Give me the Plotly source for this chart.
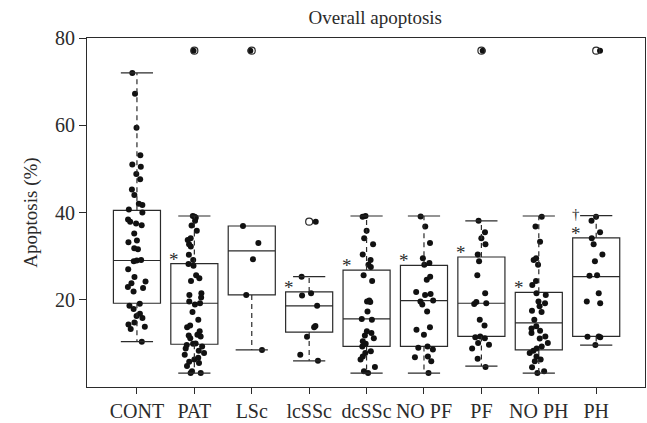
import plotly.graph_objects as go

categories = ["CONT", "PAT", "LSc", "lcSSc", "dcSSc", "NO PF", "PF", "NO PH", "PH"]

# box statistics
q1 = [19.2, 9.8, 21.1, 12.6, 9.3, 9.3, 11.6, 8.5, 11.6]
median = [29.0, 19.2, 31.2, 18.6, 15.6, 19.8, 19.2, 14.7, 25.3]
q3 = [40.5, 28.3, 36.9, 21.8, 26.8, 27.9, 29.8, 21.7, 34.2]
lower_whisker = [10.4, 3.2, 8.5, 6.0, 3.2, 3.2, 4.8, 3.2, 9.6]
upper_whisker = [72.0, 39.2, 36.9, 25.3, 39.2, 39.2, 38.1, 39.2, 39.3]

# outliers (open circles)
outlier_cats = ["PAT", "LSc", "lcSSc", "PF", "PH"]
outlier_vals = [77.1, 77.1, 37.9, 77.1, 77.1]

# individual observations
cont = [72.0, 67.2, 59.4, 53.1, 51.0, 50.5, 48.8, 47.6, 45.3, 44.0, 42.0, 41.7, 40.7, 40.0,
        38.4, 37.9, 37.5, 37.1, 35.2, 33.6, 33.2, 31.8, 31.6, 29.1, 28.8, 29.0, 27.0, 25.2,
        24.2, 23.8, 22.9, 22.7, 21.9, 19.1, 18.6, 17.9, 16.8, 16.3, 15.8, 14.8, 14.3, 13.8,
        13.3, 10.4]
pat = [77.1, 39.2, 39.0, 38.8, 38.1, 37.0, 35.8, 34.1, 33.7, 32.7, 32.2, 30.3, 29.1, 28.2,
       27.8, 25.6, 24.9, 24.3, 21.5, 21.1, 20.5, 19.6, 19.2, 18.9, 17.2, 15.4, 14.1, 13.7,
       12.8, 12.0, 11.8, 11.6, 11.2, 10.0, 9.9, 9.6, 9.3, 8.8, 8.3, 7.8, 7.4, 6.7, 6.3, 5.8,
       5.5, 4.8, 3.6, 3.2, 3.2]
lsc = [77.1, 36.9, 33.0, 29.3, 21.1, 8.5]
lcssc = [37.9, 25.3, 21.5, 21.0, 18.6, 14.0, 13.7, 11.5, 7.4, 6.0]
dcssc = [39.2, 39.0, 35.8, 34.1, 32.7, 30.4, 29.1, 28.0, 27.5, 25.6, 24.3, 19.8, 19.5, 19.6,
         17.3, 15.6, 15.4, 12.8, 12.4, 11.8, 11.2, 10.5, 9.9, 9.3, 8.2, 7.8, 7.0, 6.3, 4.6,
         3.6, 3.2]
no_pf = [39.1, 36.8, 33.0, 29.5, 28.4, 28.0, 25.3, 24.6, 21.8, 21.3, 21.1, 19.8, 19.6, 18.9,
         17.3, 13.7, 13.1, 12.0, 9.3, 9.0, 8.6, 7.0, 6.8, 5.9, 3.2]
pf = [77.1, 38.1, 35.5, 34.1, 32.7, 30.4, 28.8, 25.6, 21.5, 19.5, 19.2, 19.0, 15.4, 14.1,
      11.6, 11.4, 11.2, 10.1, 9.7, 8.8, 6.5, 4.6]
no_ph = [39.0, 36.8, 33.3, 29.5, 29.1, 28.0, 24.3, 23.4, 21.5, 21.1, 19.6, 19.2, 18.5, 17.5,
         17.2, 15.4, 13.9, 13.4, 12.9, 12.4, 11.6, 11.1, 10.1, 9.3, 8.8, 8.3, 7.8, 7.0, 6.3,
         5.9, 4.5, 3.6, 3.2]
ph = [77.1, 39.0, 38.1, 35.5, 34.1, 32.7, 30.4, 28.8, 25.6, 25.5, 21.5, 19.6, 19.2, 11.6,
      11.5, 11.4, 9.6]
groups = [cont, pat, lsc, lcssc, dcssc, no_pf, pf, no_ph, ph]

# significance marks
star_cats = ["PAT", "lcSSc", "dcSSc", "NO PF", "PF", "NO PH", "PH"]
dagger_cats = ["PH"]

INK = "#2b2b2b"
FONT = "Liberation Serif"

fig = go.Figure()

# boxes
fig.add_trace(go.Box(
    x=categories, q1=q1, median=median, q3=q3,
    lowerfence=q1, upperfence=q3, orientation="v",
    width=0.82, whiskerwidth=0, boxpoints=False,
    fillcolor="rgba(0,0,0,0)", line=dict(color=INK, width=1.2),
    hoverinfo="skip", showlegend=False,
))

# dashed whiskers
wx, wy = [], []
for c, a, b, lo, hi in zip(categories, q1, q3, lower_whisker, upper_whisker):
    wx += [c, c, None, c, c, None]
    wy += [b, hi, None, a, lo, None]
fig.add_trace(go.Scatter(
    x=wx, y=wy, mode="lines", line=dict(color=INK, width=1.2, dash="5px,4px"),
    hoverinfo="skip", showlegend=False,
))

# whisker caps
cx, cy = [], []
for c, a, b, lo, hi in zip(categories, q1, q3, lower_whisker, upper_whisker):
    if hi != b:
        cx.append(c); cy.append(hi)
    if lo != a:
        cx.append(c); cy.append(lo)
fig.add_trace(go.Scatter(
    x=cx, y=cy, mode="markers",
    marker=dict(symbol="line-ew", size=23, line=dict(color=INK, width=1.2)),
    hoverinfo="skip", showlegend=False,
))

# outliers
fig.add_trace(go.Scatter(
    x=outlier_cats, y=outlier_vals, mode="markers",
    marker=dict(symbol="circle-open", size=7, color=INK, line=dict(width=1.2)),
    hoverinfo="skip", showlegend=False,
))

# jittered points
px, py = [], []
for c, vals in zip(categories, groups):
    px += [c] * len(vals)
    py += vals
fig.add_trace(go.Box(
    x=px, y=py, boxpoints="all", jitter=0.45, pointpos=0, width=0.82,
    fillcolor="rgba(0,0,0,0)", line=dict(color="rgba(0,0,0,0)", width=0),
    marker=dict(color="#111111", size=6), hoverinfo="skip", showlegend=False,
))

annotations = []
for c in star_cats:
    i = categories.index(c)
    annotations.append(dict(x=c, y=q3[i], text="*", showarrow=False, xshift=-20, yshift=-8,
                            yanchor="bottom", font=dict(family=FONT, size=19, color=INK)))
for c in dagger_cats:
    i = categories.index(c)
    annotations.append(dict(x=c, y=q3[i], text="†", showarrow=False, xshift=-20, yshift=14,
                            yanchor="bottom", font=dict(family=FONT, size=15, color=INK)))

fig.update_layout(
    width=647, height=423,
    margin=dict(l=87, r=2, t=38, b=36, autoexpand=False),
    paper_bgcolor="white", plot_bgcolor="white",
    font=dict(family=FONT, size=20, color=INK),
    title=dict(text="Overall apoptosis", x=0.58, xanchor="center", y=0.958, yanchor="middle",
               font=dict(family=FONT, size=19, color=INK)),
    boxmode="overlay",
    annotations=annotations,
    xaxis=dict(type="category", categoryorder="array", categoryarray=categories,
               range=[-0.87, 8.85], showline=True, linecolor=INK, linewidth=1.2, mirror=True,
               ticks="outside", ticklen=6, tickcolor=INK, tickwidth=1.2, showgrid=False,
               zeroline=False, tickfont=dict(family=FONT, size=20, color=INK), automargin=False),
    yaxis=dict(range=[0, 80], tickvals=[20, 40, 60, 80], showline=True, linecolor=INK,
               linewidth=1.2, mirror=True, ticks="outside", ticklen=7, tickcolor=INK,
               tickwidth=1.2, showgrid=False, zeroline=False,
               tickfont=dict(family=FONT, size=20, color=INK),
               title=dict(text="Apoptosis (%)", font=dict(family=FONT, size=19, color=INK),
                          standoff=12), automargin=False),
)

fig.write_html("out.html", config={"displayModeBar": False},
               post_script="document.body.style.margin='0';")
